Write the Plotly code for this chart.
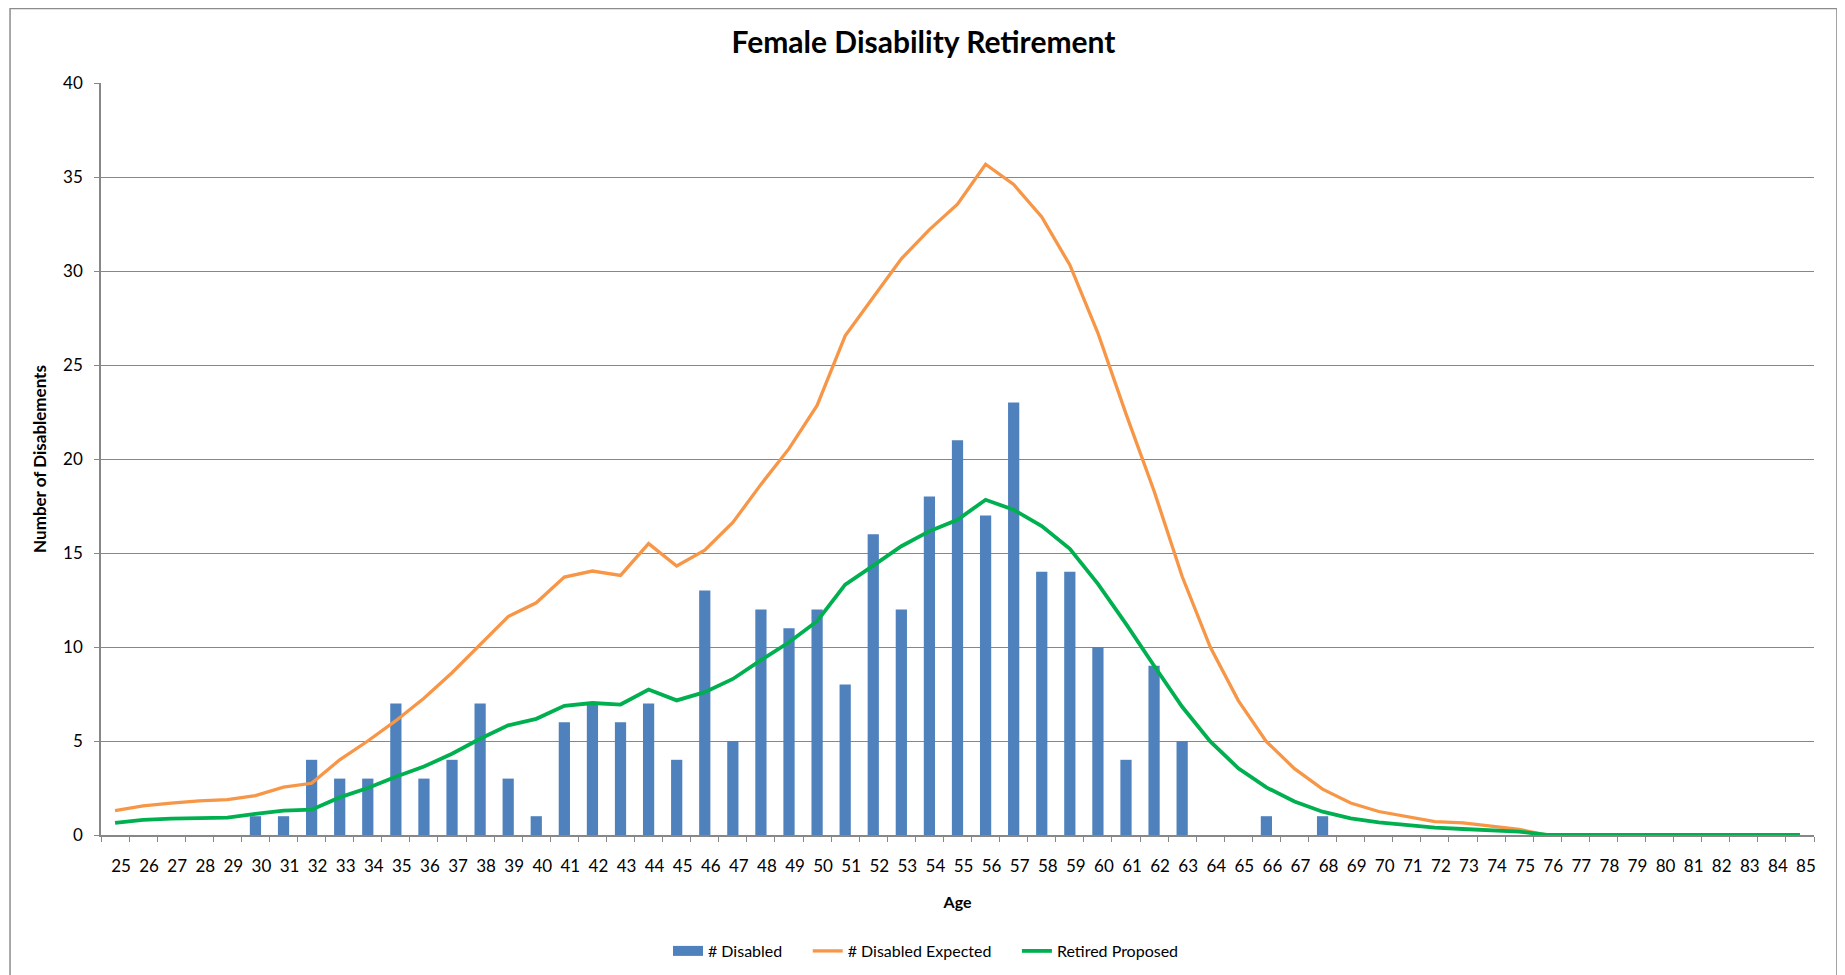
import plotly.graph_objects as go

ages = [str(a) for a in range(25, 86)]

disabled = [0, 0, 0, 0, 0, 1, 1, 4, 3, 3, 7, 3, 4, 7, 3, 1, 6, 7, 6, 7, 4,
            13, 5, 12, 11, 12, 8, 16, 12, 18, 21, 17, 23, 14, 14, 10, 4, 9, 5,
            0, 0, 1, 0, 1, 0, 0, 0, 0, 0, 0, 0, 0, 0, 0, 0, 0, 0, 0, 0, 0, 0]

expected = [1.3, 1.55, 1.7, 1.82, 1.88, 2.1, 2.55, 2.75, 4.0, 5.0, 6.08, 7.27,
            8.63, 10.15, 11.62, 12.35, 13.72, 14.04, 13.81, 15.5, 14.31,
            15.15, 16.62, 18.65, 20.55, 22.85, 26.55, 28.6, 30.65, 32.2, 33.55,
            35.68, 34.6, 32.88, 30.32, 26.7, 22.4, 18.3, 13.75, 10.0, 7.15,
            4.97, 3.53, 2.44, 1.7, 1.25, 0.98, 0.71, 0.64, 0.47, 0.3, 0.0,
            0, 0, 0, 0, 0, 0, 0, 0, 0]

proposed = [0.64, 0.8, 0.87, 0.92, 0.92, 1.12, 1.3, 1.35, 2.0, 2.5, 3.1, 3.64,
            4.32, 5.12, 5.83, 6.18, 6.87, 7.02, 6.94, 7.74, 7.16, 7.6, 8.3,
            9.3, 10.25, 11.37, 13.32, 14.33, 15.36, 16.16, 16.77, 17.83, 17.3,
            16.43, 15.22, 13.36, 11.23, 9.0, 6.82, 4.98, 3.55, 2.53, 1.78,
            1.24, 0.89, 0.67, 0.53, 0.39, 0.32, 0.27, 0.18, 0.0,
            0, 0, 0, 0, 0, 0, 0, 0, 0]

y_ticks = [0, 5, 10, 15, 20, 25, 30, 35, 40]

FONT = "Lato"
GRID = "#878787"
BLUE = "#4F81BD"
ORANGE = "#F79646"
GREEN = "#00B050"
PAD = "\u00a0" * 5

# figure is drawn inside the page's default 8px body margin
W, H = 1837, 967

fig = go.Figure()
fig.add_trace(go.Bar(x=ages, y=disabled, name="# Disabled",
                     marker=dict(color=BLUE, line=dict(width=0)),
                     width=0.4, showlegend=False))
# legend entry for the bars (wide rectangle swatch like the original)
fig.add_trace(go.Scatter(x=[None], y=[None], name="# Disabled" + PAD,
                         mode="lines", line=dict(color=BLUE, width=10),
                         hoverinfo="skip"))
fig.add_trace(go.Scatter(x=ages, y=expected, name="# Disabled Expected" + PAD,
                         mode="lines", line=dict(color=ORANGE, width=3.3)))
fig.add_trace(go.Scatter(x=ages, y=proposed, name="Retired Proposed",
                         mode="lines", line=dict(color=GREEN, width=3.8)))

fig.update_layout(
    width=W, height=H,
    margin=dict(l=93, r=31, t=75, b=140, autoexpand=False),
    paper_bgcolor="white", plot_bgcolor="white",
    font=dict(family=FONT, size=16, color="black"),
    title=dict(text="<b>Female Disability Retirement</b>",
               font=dict(family=FONT, size=30, color="black"),
               x=915.5 / W, xref="container", xanchor="center",
               y=1 - 34 / H, yref="container", yanchor="middle"),
    showlegend=True,
    legend=dict(orientation="h", x=0.4816, xanchor="center",
                y=1 - 943 / H, yref="container", yanchor="middle",
                font=dict(family=FONT, size=16), traceorder="normal",
                itemwidth=30),
    shapes=[dict(type="rect", xref="paper", yref="paper",
                 x0=-0.0531, x1=1.0134, y0=-0.2, y1=1.099,
                 line=dict(color="#8c8c8c", width=1.5), layer="below")],
)

fig.update_xaxes(
    type="category", automargin=False, tickangle=0,
    title=dict(text="<b>Age</b>", font=dict(family=FONT, size=16), standoff=22),
    showline=True, linecolor=GRID, linewidth=1.5,
    ticks="outside", tickson="boundaries", ticklen=5, tickcolor=GRID,
    tickfont=dict(family=FONT, size=17),
    ticklabelshift=6, ticklabelstandoff=15,
    showgrid=False,
)
fig.update_yaxes(
    range=[0, 40], tickvals=y_ticks, automargin=False,
    title=dict(text="<b>Number of Disablements</b>",
               font=dict(family=FONT, size=17), standoff=12),
    showline=True, linecolor=GRID, linewidth=1.5,
    ticks="outside", ticklen=5, tickcolor=GRID,
    tickfont=dict(family=FONT, size=17), ticklabelstandoff=8,
    showgrid=True, gridcolor=GRID, gridwidth=1.2,
    zeroline=False,
)

fig.write_html("out.html")
